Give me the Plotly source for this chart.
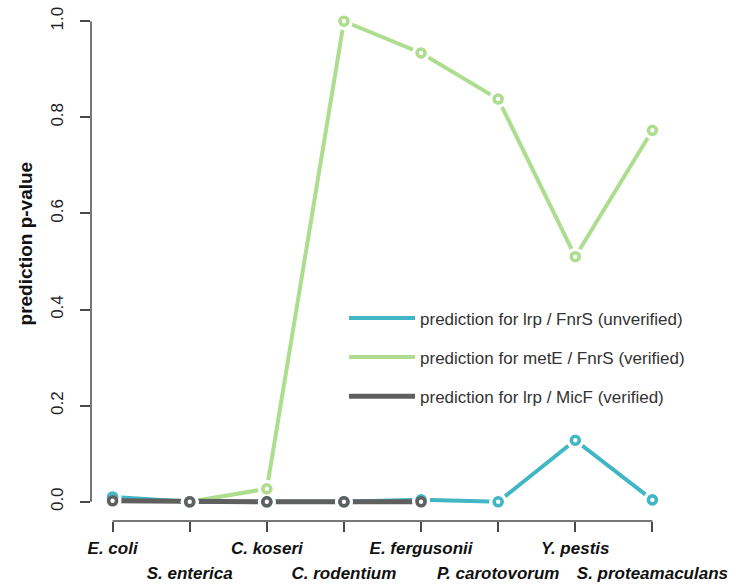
import plotly.graph_objects as go

# Species along the x axis (left to right)
species = [
    "E. coli", "S. enterica", "C. koseri", "C. rodentium",
    "E. fergusonii", "P. carotovorum", "Y. pestis", "S. proteamaculans",
]

# Prediction p-values per species (None = no prediction)
lrp_fnrs = [0.010, 0.0, 0.0, 0.0, 0.004, 0.0, 0.128, 0.004]
mete_fnrs = [None, 0.0, 0.027, 1.0, 0.934, 0.838, 0.510, 0.773]
lrp_micf = [0.002, 0.0, 0.0, 0.0, 0.0, None, None, None]

series_names = [
    "prediction for lrp / FnrS (unverified)",
    "prediction for metE / FnrS (verified)",
    "prediction for lrp / MicF (verified)",
]
series_values = [lrp_fnrs, mete_fnrs, lrp_micf]
series_colors = ["#41b6c4", "#addd8e", "#5f5f5f"]
series_widths = [4, 4, 5]

y_ticks = [0.0, 0.2, 0.4, 0.6, 0.8, 1.0]

FONT = "Liberation Sans, Arial, Helvetica, sans-serif"
AXIS_COLOR = "#4a4a4a"

x_idx = list(range(len(species)))

fig = go.Figure()

# connecting lines (these carry the legend entries), on the lower x layer
for i, (name, vals, col, w) in enumerate(zip(series_names, series_values, series_colors, series_widths)):
    fig.add_trace(go.Scatter(
        x=x_idx, y=vals, mode="lines", name=name, xaxis="x", yaxis="y",
        line=dict(color=col, width=w), connectgaps=False,
        legendgroup=f"g{i}", showlegend=True, hoverinfo="skip",
    ))

# white halo under each point so the lines stop short of the markers
for vals in series_values:
    fig.add_trace(go.Scatter(
        x=x_idx, y=vals, mode="markers", showlegend=False, hoverinfo="skip",
        xaxis="x2", yaxis="y",
        marker=dict(symbol="circle", size=18, color="white", line=dict(width=0)),
    ))

# open circle markers
for name, vals, col in zip(series_names, series_values, series_colors):
    fig.add_trace(go.Scatter(
        x=x_idx, y=vals, mode="markers", showlegend=False, name=name,
        xaxis="x2", yaxis="y",
        marker=dict(symbol="circle", size=8, color="white", line=dict(color=col, width=3.6)),
    ))

# axis lines spanning only the tick range
fig.add_shape(type="line", xref="paper", yref="y", x0=0, x1=0, y0=0, y1=1,
              line=dict(color=AXIS_COLOR, width=1.5))
fig.add_shape(type="line", xref="x", yref="paper", x0=0, x1=len(species) - 1, y0=0, y1=0,
              line=dict(color=AXIS_COLOR, width=1.5))

# y axis title placed beside the tick labels
fig.add_annotation(
    text="prediction p-value", textangle=-90,
    xref="paper", yref="paper", x=-0.113, y=0.535, xanchor="center", yanchor="middle",
    showarrow=False, font=dict(family=FONT, size=19, color="#111", weight="bold"),
)

x_range = [-0.28, len(species) - 1 + 0.28]
tick_font = dict(family=FONT, size=17, color="#111", style="italic", weight="bold")

fig.update_layout(
    width=731, height=585,
    margin=dict(l=91, r=57, t=2, b=64),
    paper_bgcolor="white", plot_bgcolor="white",
    font=dict(family=FONT, color="#222"),
    xaxis=dict(
        range=x_range, showgrid=False, zeroline=False, showline=False,
        tickmode="array", tickvals=x_idx[0::2], ticktext=species[0::2],
        ticks="outside", ticklen=10, tickwidth=1.5, tickcolor=AXIS_COLOR,
        tickfont=tick_font, ticklabelstandoff=2,
    ),
    xaxis2=dict(
        overlaying="x", anchor="y", side="bottom",
        range=x_range, showgrid=False, zeroline=False, showline=False,
        tickmode="array", tickvals=x_idx[1::2], ticktext=species[1::2],
        ticks="outside", ticklen=10, tickwidth=1.5, tickcolor=AXIS_COLOR,
        tickfont=tick_font, ticklabelstandoff=27,
    ),
    yaxis=dict(
        range=[-0.04, 1.04], showgrid=False, zeroline=False, showline=False,
        tickmode="array", tickvals=y_ticks, ticktext=[f"{v:.1f}" for v in y_ticks],
        ticks="outside", ticklen=10, tickwidth=1.5, tickcolor=AXIS_COLOR,
        tickangle=-90, tickfont=dict(family=FONT, size=17, color="#222"),
        ticklabelstandoff=10,
    ),
    legend=dict(
        x=0.434, y=0.425, xanchor="left", yanchor="top",
        bgcolor="rgba(0,0,0,0)", borderwidth=0,
        font=dict(family=FONT, size=17, color="#333"),
        traceorder="grouped", tracegroupgap=14, itemwidth=66,
    ),
)

fig.write_html("out.html")
